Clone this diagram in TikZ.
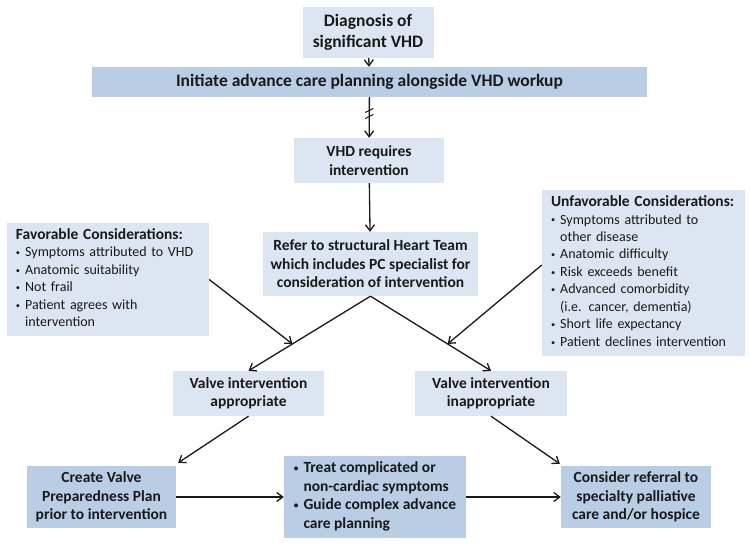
\documentclass[tikz,border=0pt]{standalone}
\usepackage{fontspec}
\setmainfont{Carlito}
\usepackage{graphicx}
\usepackage{tikz}
\usetikzlibrary{calc,arrows.meta}
\definecolor{boxlight}{RGB}{220,230,242}
\definecolor{boxdark}{RGB}{185,205,229}
\newcommand{\bul}{\raisebox{0.15ex}{\scalebox{0.6}{\textbullet}}}

\begin{document}
\begin{tikzpicture}[x=1pt,y=-1pt,
  >={Straight Barb[length=6pt,width=9pt]},
  conn/.style={->,line width=1.3pt,color=black!90},
  lbox/.style={fill=boxlight,inner sep=0pt,align=center,text=black!90,
    font=\fontsize{15.5}{18.5}\selectfont\bfseries},
  dbox/.style={lbox,fill=boxdark},
  bigtext/.style={font=\fontsize{17.5}{21}\selectfont\bfseries},
  listbox/.style={fill=boxlight,inner xsep=9pt,inner ysep=0pt,align=left,text=black!90,
    font=\fontsize{14}{17.5}\selectfont}]
  \useasboundingbox (0,0) rectangle (750,548);
  % top of the chart
  \node[lbox,bigtext,minimum width=131pt,minimum height=51pt] (diag) at (368,32.5) {Diagnosis of\\significant VHD};
  \node[dbox,bigtext,minimum width=555pt,minimum height=30pt] (acp) at (369.5,82) {Initiate advance care planning alongside VHD workup};
  \node[lbox,minimum width=150pt,minimum height=45pt] (req) at (369,160.5) {VHD requires\\intervention};
  \node[lbox,minimum width=215pt,minimum height=64pt] (team) at (370.5,264) {Refer to structural Heart Team\\which includes PC specialist for\\consideration of intervention};
  % considerations
  \node[listbox,text width=184pt,minimum height=113pt] (fav) at (108,279.5) {%
    \begin{tabular}{@{}l@{\hspace{5pt}}l@{}}
      \multicolumn{2}{@{}l}{\fontsize{15.5}{17.5}\selectfont\bfseries Favorable Considerations:}\\
      \bul & Symptoms attributed to VHD\\
      \bul & Anatomic suitability\\
      \bul & Not frail\\
      \bul & Patient agrees with\\
           & intervention
    \end{tabular}};
  \node[listbox,text width=185pt,minimum height=166pt] (unfav) at (643.5,273) {%
    \begin{tabular}{@{}l@{\hspace{5pt}}l@{}}
      \multicolumn{2}{@{}l}{\fontsize{15.5}{17.5}\selectfont\bfseries Unfavorable Considerations:}\\
      \bul & Symptoms attributed to\\
           & other disease\\
      \bul & Anatomic difficulty\\
      \bul & Risk exceeds benefit\\
      \bul & Advanced comorbidity\\
           & (i.e. cancer, dementia)\\
      \bul & Short life expectancy\\
      \bul & Patient declines intervention
    \end{tabular}};
  % decision
  \node[lbox,minimum width=151pt,minimum height=45pt] (appr) at (248.5,393.5) {Valve intervention\\appropriate};
  \node[lbox,minimum width=152pt,minimum height=45pt] (inappr) at (491,393.5) {Valve intervention\\inappropriate};
  % bottom row
  \node[dbox,minimum width=149pt,minimum height=62pt] (plan) at (101.5,497) {Create Valve\\Preparedness Plan\\prior to intervention};
  \node[dbox,minimum width=182pt,minimum height=82pt,align=left] (treat) at (375,497) {%
    \begin{tabular}{@{}l@{\hspace{5pt}}l@{}}
      \bul & Treat complicated or\\
           & non-cardiac symptoms\\
      \bul & Guide complex advance\\
           & care planning
    \end{tabular}};
  \node[dbox,minimum width=150pt,minimum height=62pt] (hosp) at (636,497) {Consider referral to\\specialty palliative\\care and/or hospice};

  % connectors
  \draw[conn] (diag) -- (acp);
  \draw[conn] (acp) -- (req) coordinate[pos=0.4] (brk);
  \draw[line width=1pt,color=black!90] ([shift={(-4,-1)}]brk) -- ([shift={(4,-5)}]brk);
  \draw[line width=1pt,color=black!90] ([shift={(-4,5)}]brk) -- ([shift={(4,1)}]brk);
  \draw[conn] (req) -- (team);
  \draw[conn] (team.south) -- (appr.north);
  \draw[conn] (team.south) -- (inappr.north);
  \coordinate (favhit) at ($(team.south)!0.64!(appr.north)$);
  \coordinate (unfavhit) at ($(team.south)!0.64!(inappr.north)$);
  \draw[conn] (fav.east) -- (favhit);
  \draw[conn] ([yshift=8pt]unfav.west) -- (unfavhit);
  \draw[conn] (appr.south) -- ([shift={(2,-3)}]plan.north east);
  \draw[conn] (inappr.south) -- ([shift={(-1,-2)}]hosp.north west);
  \draw[conn] (plan) -- (treat);
  \draw[conn] (treat) -- (hosp);
\end{tikzpicture}
\end{document}
